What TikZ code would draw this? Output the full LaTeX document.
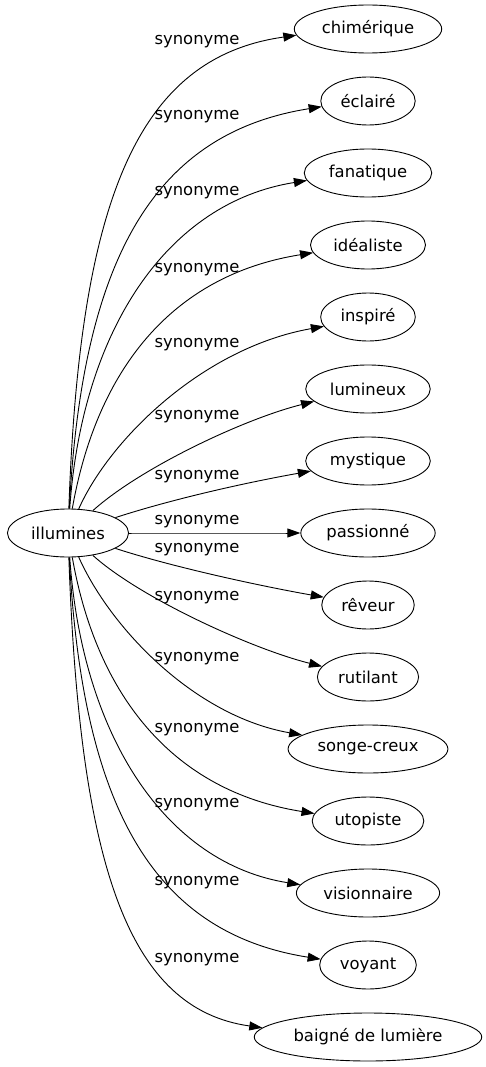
\documentclass[tikz,border=0pt]{standalone}
\usepackage{fontspec}
\setmainfont{DejaVu Sans}
\usetikzlibrary{arrows.meta,shapes.geometric}

\begin{document}
\begin{tikzpicture}[x=1pt, y=-1pt,
    syn/.style={ellipse, draw, line width=0.9pt, minimum height=48pt, inner xsep=6pt, inner ysep=3pt, font=\fontsize{16.4}{19}\selectfont},
    lbl/.style={font=\fontsize{16.4}{19}\selectfont, inner sep=0pt},
    edge/.style={-{Triangle[length=13pt, width=9pt]}, line width=0.9pt}
]
\useasboundingbox (0,0) rectangle (486,1067);
\node[syn] (illumines) at (68,533) {illumines};
% name/text/label y/source angle/out dist/target angle/in angle/in dist
\foreach \nm/\txt/\ly/\sa/\sd/\ta/\ia/\id [count=\k from 0] in {
    chimerique/chimérique/42/88/310/185/188/160,
    eclaire/éclairé/117/87/250/187/189/170,
    fanatique/fanatique/193/86/181/187/189/140,
    idealiste/idéaliste/270/80/141/188/189/143,
    inspire/inspiré/345/66/77/192/190/122,
    lumineux/lumineux/417/42/64/193/194/72,
    mystique/mystique/477/18/63/190/190/61,
    passionne/passionné/522/0/50/180/180/50,
    reveur/rêveur/550/342/63/170/170/61,
    rutilant/rutilant/598/318/64/167/166/72,
    songecreux/songe-creux/659/294/77/168/170/110,
    utopiste/utopiste/730/280/141/172/171/143,
    visionnaire/visionnaire/805/274/181/173/171/135,
    voyant/voyant/883/273/250/173/171/170,
    baigne/baigné de lumière/960/272/310/175/172/135}
{
  \node[syn] (\nm) at (368,29+72*\k) {\txt};
  \node[lbl] (l\nm) at (197,\ly) {synonyme};
  \draw[edge] (illumines.\sa) .. controls +(\sa:\sd pt) and +(\ia:\id pt) .. (\nm.\ta);
}
\end{tikzpicture}
\end{document}
